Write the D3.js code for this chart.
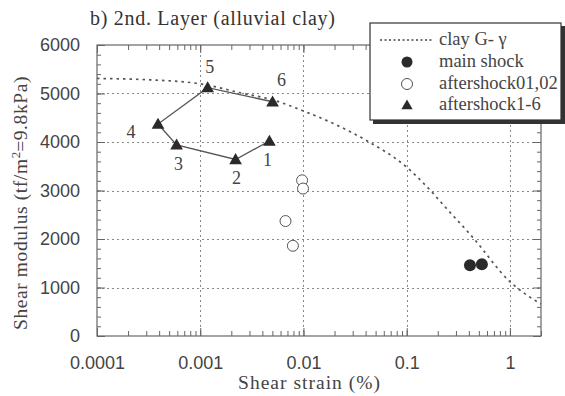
<!DOCTYPE html>
<html><head><meta charset="utf-8">
<script src="https://cdn.jsdelivr.net/npm/d3@7"></script>
<style>body{margin:0;background:#fff}svg{display:block}
.serif{font-family:"Liberation Serif","DejaVu Serif",serif}
.sans{font-family:"Liberation Sans","DejaVu Sans",sans-serif}
</style>
</head><body>
<svg id="c" width="565" height="396"></svg>
<script>
// ---- data ----
const xTicks = [0.0001, 0.001, 0.01, 0.1, 1];
const xTickLabels = ["0.0001", "0.001", "0.01", "0.1", "1"];
const yTicks = [0, 1000, 2000, 3000, 4000, 5000, 6000];
const curveStrain = [0.0001, 0.0003, 0.001, 0.0025, 0.005, 0.01, 0.02, 0.04, 0.1, 0.16, 0.25, 0.43, 1, 2];
const curveG = [5310, 5285, 5200, 5010, 4870, 4640, 4370, 4040, 3480, 3060, 2600, 2050, 1120, 660];
const mainStrain = [0.41, 0.535];
const mainG = [1460, 1480];
const afterOStrain = [0.0097, 0.0099, 0.0067, 0.0079];
const afterOG = [3210, 3040, 2370, 1860];
const afterTLabels = ["1", "2", "3", "4", "5", "6"];
const afterTStrain = [0.00468, 0.0022, 0.00059, 0.00039, 0.00118, 0.00502];
const afterTG = [4020, 3640, 3940, 4370, 5120, 4830];
const legendLabels = ["clay G- \u03b3", "main shock", "aftershock01,02", "aftershock1-6"];

// ---- layout ----
const svg = d3.select("#c");
const L = 97, R = 541, T = 45, B = 336;
const x = d3.scaleLog().domain([0.0001, 2]).range([L, R]);
const y = d3.scaleLinear().domain([0, 6000]).range([B, T]);
const axisCol = "#666", textCol = "#444", markCol = "#2a2a2a";

// grid
const g = svg.append("g").attr("shape-rendering", "crispEdges");
g.selectAll("line.gx").data(xTicks.slice(1)).enter().append("line").attr("class", "gx")
  .attr("x1", d => Math.round(x(d)) + 0.5).attr("x2", d => Math.round(x(d)) + 0.5).attr("y1", T).attr("y2", B)
  .attr("stroke", "#888").attr("stroke-width", 1).attr("stroke-dasharray", "2,3");
g.selectAll("line.gy").data(yTicks.slice(1, -1)).enter().append("line").attr("class", "gy")
  .attr("x1", L).attr("x2", R).attr("y1", d => Math.round(y(d)) + 0.5).attr("y2", d => Math.round(y(d)) + 0.5)
  .attr("stroke", "#888").attr("stroke-width", 1).attr("stroke-dasharray", "2,3");

// minor tick values
const minorX = [];
for (let e = -4; e <= 0; e++) for (let m = 1; m <= 9; m++) { const v = m * Math.pow(10, e); if (v <= 2) minorX.push(v); }
const minorY = d3.range(0, 6001, 200);

function axisTicks(axisGen, tx, ty) {
  const a = svg.append("g").attr("transform", `translate(${tx},${ty})`).call(axisGen);
  a.select(".domain").remove();
  a.selectAll("line").attr("stroke", axisCol);
  a.selectAll("text").remove();
  return a;
}
axisTicks(d3.axisBottom(x).tickValues(minorX).tickSizeInner(-5).tickSizeOuter(0), 0, B);
axisTicks(d3.axisBottom(x).tickValues(xTicks).tickSizeInner(-8).tickSizeOuter(0), 0, B);
axisTicks(d3.axisTop(x).tickValues(minorX).tickSizeInner(-5).tickSizeOuter(0), 0, T);
axisTicks(d3.axisTop(x).tickValues(xTicks).tickSizeInner(-8).tickSizeOuter(0), 0, T);
axisTicks(d3.axisLeft(y).tickValues(minorY).tickSizeInner(-4).tickSizeOuter(0), L, 0);
axisTicks(d3.axisLeft(y).tickValues(yTicks).tickSizeInner(-8).tickSizeOuter(0), L, 0);
axisTicks(d3.axisRight(y).tickValues(minorY).tickSizeInner(-4).tickSizeOuter(0), R, 0);
axisTicks(d3.axisRight(y).tickValues(yTicks).tickSizeInner(-8).tickSizeOuter(0), R, 0);

// frame
svg.append("rect").attr("x", L).attr("y", T).attr("width", R - L).attr("height", B - T)
  .attr("fill", "none").attr("stroke", axisCol).attr("stroke-width", 1.2);

// tick labels
const xl = svg.append("g").attr("transform", `translate(0,${B})`)
  .call(d3.axisBottom(x).tickValues(xTicks).tickFormat((d, i) => xTickLabels[i]).tickSize(0).tickPadding(20));
xl.select(".domain").remove();
xl.attr("font-family", null).attr("font-size", null);
xl.selectAll("text").attr("class", "sans").style("font-size", "18px").attr("fill", textCol);
const yl = svg.append("g").attr("transform", `translate(${L},0)`)
  .call(d3.axisLeft(y).tickValues(yTicks).tickFormat(d3.format("d")).tickSize(0).tickPadding(17));
yl.select(".domain").remove();
yl.attr("font-family", null).attr("font-size", null);
yl.selectAll("text").attr("class", "sans").style("font-size", "18px").attr("fill", textCol);

// curve
const line = d3.line().x(d => x(d[0])).y(d => y(d[1])).curve(d3.curveMonotoneX);
svg.append("path").datum(curveStrain.map((s, i) => [s, curveG[i]]))
  .attr("d", line).attr("fill", "none").attr("stroke", "#555").attr("stroke-width", 1.7)
  .attr("stroke-dasharray", "2.5,4");

// aftershock 1-6 polyline
const tri = afterTStrain.map((s, i) => [s, afterTG[i]]);
svg.append("path").datum(tri).attr("d", d3.line().x(d => x(d[0])).y(d => y(d[1])))
  .attr("fill", "none").attr("stroke", "#555").attr("stroke-width", 1.3);
const triSym = d3.symbol().type(d3.symbolTriangle).size(70);
svg.selectAll("path.tri").data(tri).enter().append("path").attr("class", "tri")
  .attr("d", triSym).attr("transform", d => `translate(${x(d[0])},${y(d[1]) + 1})`)
  .attr("fill", markCol);
const labOff = [[-2, 25], [1, 25], [2, 25], [-27, 14], [2, -15], [9, -16]];
svg.selectAll("text.tl").data(afterTLabels).enter().append("text").attr("class", "tl serif")
  .attr("x", (d, i) => x(afterTStrain[i]) + labOff[i][0])
  .attr("y", (d, i) => y(afterTG[i]) + labOff[i][1])
  .attr("text-anchor", "middle").style("font-size", "18px")
  .attr("fill", textCol).text(d => d);

// open circles
svg.selectAll("circle.oc").data(afterOStrain).enter().append("circle").attr("class", "oc")
  .attr("cx", d => x(d)).attr("cy", (d, i) => y(afterOG[i])).attr("r", 5.5)
  .attr("fill", "#fff").attr("stroke", "#555").attr("stroke-width", 1);
// filled circles
svg.selectAll("circle.fc").data(mainStrain).enter().append("circle").attr("class", "fc")
  .attr("cx", d => x(d)).attr("cy", (d, i) => y(mainG[i])).attr("r", 6)
  .attr("fill", markCol);

// legend
const lg = svg.append("g");
lg.append("rect").attr("x", 373).attr("y", 26).attr("width", 192).attr("height", 98).attr("fill", "#333");
lg.append("rect").attr("x", 370).attr("y", 23).attr("width", 191).attr("height", 97)
  .attr("fill", "#fff").attr("stroke", "#333").attr("stroke-width", 1.2);
const rowY = [40, 62, 84, 105];
lg.append("line").attr("x1", 380).attr("x2", 433).attr("y1", rowY[0]).attr("y2", rowY[0])
  .attr("stroke", "#444").attr("stroke-width", 1.3).attr("stroke-dasharray", "2,2.5");
lg.append("circle").attr("cx", 407).attr("cy", rowY[1]).attr("r", 5.5).attr("fill", markCol);
lg.append("circle").attr("cx", 407).attr("cy", rowY[2]).attr("r", 5.5).attr("fill", "#fff").attr("stroke", "#555");
lg.append("path").attr("d", d3.symbol().type(d3.symbolTriangle).size(55)).attr("transform", `translate(407,${rowY[3] + 1})`).attr("fill", markCol);
lg.selectAll("text.lt").data(legendLabels).enter().append("text").attr("class", "lt serif")
  .attr("x", 439).attr("y", (d, i) => rowY[i] + 5).style("font-size", "18.5px")
  .attr("fill", textCol).text(d => d);

// title & axis titles
svg.append("text").attr("class", "serif").attr("x", 90).attr("y", 25).style("font-size", "20px")
  .attr("textLength", 245).attr("lengthAdjust", "spacing")
  .attr("fill", "#333").text("b) 2nd. Layer (alluvial clay)");
svg.append("text").attr("class", "serif").attr("x", 309).attr("y", 389).attr("text-anchor", "middle")
  .style("font-size", "19.5px").attr("textLength", 142).attr("lengthAdjust", "spacing")
  .attr("fill", textCol).text("Shear strain (%)");
const yt = svg.append("text").attr("class", "serif").attr("transform", "translate(27,203) rotate(-90)").attr("text-anchor", "middle")
  .style("font-size", "19.5px").attr("fill", textCol);
yt.append("tspan").attr("letter-spacing", "0.6px").text("Shear modulus (tf/m");
yt.append("tspan").style("font-size", "13px").attr("dy", -7).text("2");
yt.append("tspan").attr("dy", 7).attr("letter-spacing", "0.6px").text("=9.8kPa)");
</script>
</body></html>
